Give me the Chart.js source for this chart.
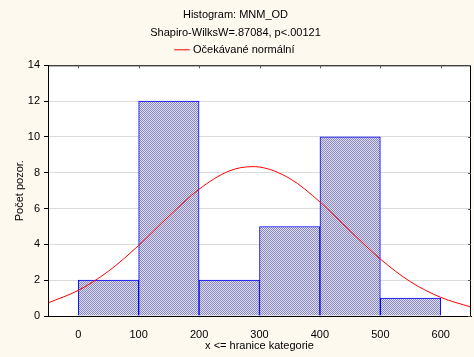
<!DOCTYPE html>
<html>
<head>
<meta charset="utf-8">
<script src="https://cdn.jsdelivr.net/npm/chart.js@4/dist/chart.umd.min.js"></script>
<style>
  html, body { margin: 0; padding: 0; background: #fdf9ee; }
  #wrap { width: 474px; height: 357px; position: relative; }
</style>
</head>
<body>
<div id="wrap"><canvas id="c" width="474" height="357"></canvas></div>
<script>
// histogram bins (bin centers) and counts
const binCenters = [50, 150, 250, 350, 450, 550]
const counts = [2, 12, 2, 5, 10, 1]
const xTicks = [0, 100, 200, 300, 400, 500, 600]

// expected normal curve
const curveX = [-50, 0, 50, 100, 150, 200, 250, 287.5, 300, 350, 400, 450, 500, 550, 600, 650]
const curveY = [0.73, 1.43, 2.5, 3.94, 5.57, 7.08, 8.1, 8.34, 8.32, 7.68, 6.37, 4.75, 3.18, 1.91, 1.04, 0.5]

const titleLines = ['Histogram: MNM_OD', 'Shapiro-WilksW=.87084, p<.00121']
const curveLabel = 'Očekávané normální'

const font = { family: 'Liberation Sans, Arial, sans-serif', size: 11 }

// checker pattern for bars
const makePattern = () => {
    const p = document.createElement('canvas')
    p.width = 2
    p.height = 2
    const g = p.getContext('2d')
    g.fillStyle = '#dcdcee'
    g.fillRect(0, 0, 2, 2)
    g.fillStyle = '#8a8abf'
    g.fillRect(0, 0, 1, 1)
    g.fillRect(1, 1, 1, 1)
    return g.createPattern(p, 'repeat')
}

// white plot background + inner ticks on top/right
const plotFrame = {
    id: 'plotFrame',
    beforeDraw(chart) {
        const { ctx, chartArea: a } = chart
        ctx.save()
        ctx.fillStyle = '#ffffff'
        ctx.fillRect(a.left, a.top, a.right - a.left, a.bottom - a.top)
        ctx.restore()
    },
    afterDraw(chart) {
        const { ctx, chartArea: a, scales } = chart
        ctx.save()
        ctx.strokeStyle = '#000'
        ctx.lineWidth = 1
        ctx.strokeRect(a.left + 0.5, a.top + 0.5, a.right - a.left - 1, a.bottom - a.top)
        ctx.strokeStyle = '#555'
        ctx.beginPath()
        scales.x.ticks.forEach((t) => {
            const px = Math.round(scales.x.getPixelForValue(t.value)) + 0.5
            ctx.moveTo(px, a.top)
            ctx.lineTo(px, a.top + 3)
        })
        scales.y.ticks.forEach((t) => {
            const py = Math.round(scales.y.getPixelForValue(t.value)) + 0.5
            ctx.moveTo(a.right, py)
            ctx.lineTo(a.right - 3, py)
        })
        ctx.stroke()
        ctx.restore()
    },
}

const ctx = document.getElementById('c').getContext('2d')

new Chart(ctx, {
    data: {
        datasets: [
            {
                type: 'line',
                label: curveLabel,
                data: curveX.map((x, i) => ({ x, y: curveY[i] })),
                borderColor: '#ff0000',
                backgroundColor: '#ff0000',
                borderWidth: 1,
                pointRadius: 0,
                cubicInterpolationMode: 'monotone',
                order: 0,
            },
            {
                type: 'bar',
                label: 'bins',
                data: binCenters.map((x, i) => ({ x, y: counts[i] })),
                backgroundColor: makePattern(),
                borderColor: '#0000ff',
                borderWidth: 1,
                barPercentage: 1,
                categoryPercentage: 1,
                order: 1,
            },
        ],
    },
    options: {
        responsive: false,
        animation: false,
        layout: { padding: { left: 0, right: 3, top: 0, bottom: 4 } },
        scales: {
            x: {
                type: 'linear',
                min: -50,
                max: 650,
                offset: false,
                afterBuildTicks: (s) => {
                    s.ticks = xTicks.map((v) => ({ value: v }))
                },
                ticks: {
                    color: '#000',
                    font,
                    padding: 4,
                    maxRotation: 0,
                },
                grid: { display: false },
                border: { color: '#000' },
                title: {
                    display: true,
                    text: 'x <= hranice kategorie',
                    color: '#000',
                    font,
                    padding: { top: 11, bottom: 0 },
                },
                afterFit: (s) => { s.height = 37 },
            },
            y: {
                min: 0,
                max: 14,
                ticks: { stepSize: 2, color: '#000', font, padding: 4 },
                grid: {
                    color: '#dcdcdc',
                    tickColor: '#000',
                    tickLength: 4,
                },
                border: { color: '#000' },
                title: {
                    display: true,
                    text: 'Počet pozor.',
                    color: '#000',
                    font,
                    padding: { top: 13, bottom: 0 },
                },
                afterFit: (s) => { s.width = 48 },
            },
        },
        plugins: {
            title: {
                display: true,
                text: titleLines,
                color: '#000',
                font: { ...font, weight: 'normal', lineHeight: 1.65 },
                padding: { top: 6, bottom: 0 },
            },
            legend: {
                display: true,
                labels: {
                    filter: (item) => item.text === curveLabel,
                    color: '#000',
                    font,
                    usePointStyle: true,
                    pointStyle: 'line',
                    boxWidth: 28,
                    padding: 2,
                },
            },
            tooltip: { enabled: false },
        },
    },
    plugins: [plotFrame],
})
</script>
</body>
</html>
